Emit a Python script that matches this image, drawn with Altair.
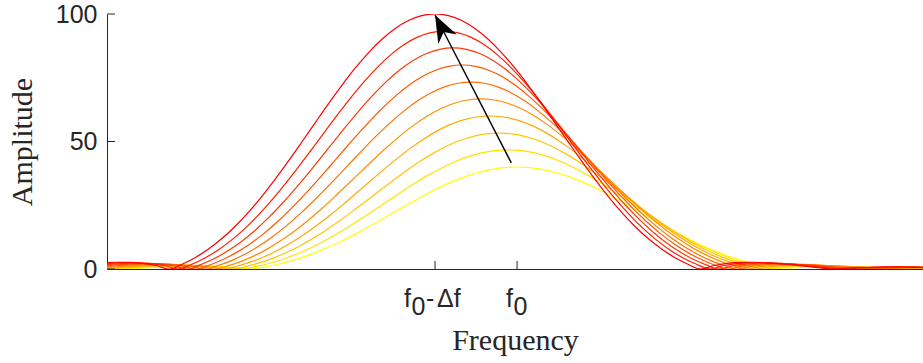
import altair as alt
import pandas as pd

# Ten spectral lobes, weakest (yellow, at f0) to strongest (red, at f0 - Δf)
peak_amp = [40.0, 46.7, 53.3, 60.0, 66.7, 73.3, 80.0, 86.7, 93.3, 100.0]
peak_freq = [5.00, 4.89, 4.78, 4.67, 4.56, 4.44, 4.33, 4.22, 4.11, 4.00]
line_colors = ["#FFFF00", "#FFE300", "#FFC600", "#FFAA00", "#FF8E00",
               "#FF7100", "#FF5500", "#FF3900", "#FF1C00", "#FF0000"]

# One side of the normalised lobe profile; offsets are in bin widths
lobe_offset = [0.0, 0.1, 0.2, 0.3, 0.4, 0.5, 0.6, 0.7, 0.8, 0.9,
               1.0, 1.1, 1.2, 1.3, 1.4, 1.5, 1.6, 1.7, 1.8, 1.9,
               2.0, 2.1, 2.2, 2.3, 2.4, 2.5, 2.6, 2.7, 2.8, 2.9,
               3.0, 3.1, 3.2, 3.3, 3.4, 3.5, 3.6, 3.7, 3.8]
lobe_level = [1.0, 0.9936, 0.9745, 0.9433, 0.9010, 0.8488, 0.7884, 0.7213, 0.6497, 0.5752,
              0.5000, 0.4258, 0.3544, 0.2871, 0.2253, 0.1698, 0.1213, 0.0802, 0.0464, 0.0198,
              0.0, 0.0137, 0.0222, 0.0261, 0.0265, 0.0243, 0.0202, 0.0152, 0.0098, 0.0046,
              0.0, 0.0037, 0.0063, 0.0079, 0.0084, 0.0081, 0.0070, 0.0055, 0.0037]
bin_width = 1.62  # frequency units per bin

freq_domain = [0.0, 9.95]
amp_ticks = [0, 50, 100]
freq_ticks = [4.0, 5.0]          # f0 - Δf, f0
arrow_start = [4.93, 41.6]       # near the weakest peak
arrow_end = [4.00, 99.6]         # strongest peak

# Build the long table of curves (both sides of each lobe)
offsets = [-u for u in lobe_offset[:0:-1]] + lobe_offset
levels = lobe_level[:0:-1] + lobe_level
rows = []
for i, (a, f) in enumerate(zip(peak_amp, peak_freq)):
    for u, v in zip(offsets, levels):
        rows.append({"series": i, "freq": f + u * bin_width, "amp": a * v})
curves = pd.DataFrame(rows)

INK = "#262626"
SANS = "Liberation Sans"
SERIF = "Liberation Serif"

x_scale = alt.Scale(domain=freq_domain, nice=False, zero=False)
y_scale = alt.Scale(domain=[0, 100], nice=False)

lines = alt.Chart(curves).mark_line(
    strokeWidth=1.2, interpolate="monotone", clip=True
).encode(
    x=alt.X("freq:Q", scale=x_scale,
            axis=alt.Axis(values=freq_ticks, labels=False, ticks=False, grid=False,
                          domainColor=INK, domainWidth=1, title="Frequency",
                          titleFont=SERIF, titleFontSize=30, titleFontWeight="normal",
                          titleColor=INK, titleY=80, titleBaseline="alphabetic")),
    y=alt.Y("amp:Q", scale=y_scale,
            axis=alt.Axis(values=amp_ticks, ticks=False, grid=False, domainColor=INK,
                          domainWidth=1, labelFont=SANS, labelFontSize=25,
                          labelColor=INK, labelPadding=10, title="Amplitude",
                          titleFont=SERIF, titleFontSize=30, titleFontWeight="normal",
                          titleColor=INK, titleX=-76, titleBaseline="alphabetic")),
    color=alt.Color("series:O", scale=alt.Scale(domain=list(range(len(line_colors))),
                                                range=line_colors), legend=None),
)

# Inward-pointing tick marks
y_tick_df = pd.DataFrame({"amp": amp_ticks})
y_tick_marks = alt.Chart(y_tick_df).mark_rule(color=INK, strokeWidth=1).encode(
    y=alt.Y("amp:Q", scale=y_scale), x=alt.value(0), x2=alt.value(8)
)
x_tick_df = pd.DataFrame({"freq": freq_ticks})
x_tick_marks = alt.Chart(x_tick_df).mark_rule(color=INK, strokeWidth=1).encode(
    x=alt.X("freq:Q", scale=x_scale), y=alt.value(255), y2=alt.value(247)
)

# Arrow from the weakest to the strongest peak
arrow_df = pd.DataFrame({"x": [arrow_start[0]], "y": [arrow_start[1]],
                         "x2": [arrow_end[0]], "y2": [arrow_end[1]]})
shaft = alt.Chart(arrow_df).mark_rule(color="black", strokeWidth=1.4).encode(
    x=alt.X("x:Q", scale=x_scale), y=alt.Y("y:Q", scale=y_scale), x2="x2:Q", y2="y2:Q"
)
head = alt.Chart(arrow_df).mark_point(
    shape="M0,0 L0.74,1.95 L0,1.36 L-0.74,1.95 Z", size=784, angle=332.8,
    filled=True, color="black", opacity=1, strokeWidth=0
).encode(x=alt.X("x2:Q", scale=x_scale), y=alt.Y("y2:Q", scale=y_scale))


# Tick labels with subscripts, assembled from pieces
def piece(freq, text, dx, base_y, align="center"):
    df = pd.DataFrame({"freq": [freq], "t": [text]})
    return alt.Chart(df).mark_text(
        font=SANS, fontSize=25, color=INK, dx=dx, align=align, baseline="alphabetic"
    ).encode(x=alt.X("freq:Q", scale=x_scale), y=alt.value(base_y), text="t:N")


f_lo, f_hi = freq_ticks
labels = [
    piece(f_lo, "f", -27.5, 293), piece(f_lo, "0", -16.5, 301),
    piece(f_lo, "-", -5, 293), piece(f_lo, "Δf", 2, 293, align="left"),
    piece(f_hi, "f", -7.5, 293), piece(f_hi, "0", 3.5, 301),
]

chart = alt.layer(lines, y_tick_marks, x_tick_marks, shaft, head, *labels).properties(
    width=816, height=255,
    autosize=alt.AutoSizeParams(type="none"),
    padding={"left": 107, "top": 14, "right": 0, "bottom": 94},
    background="white",
).configure_view(stroke=None)

chart.save("out.html", embed_options={"renderer": "svg", "actions": False})
